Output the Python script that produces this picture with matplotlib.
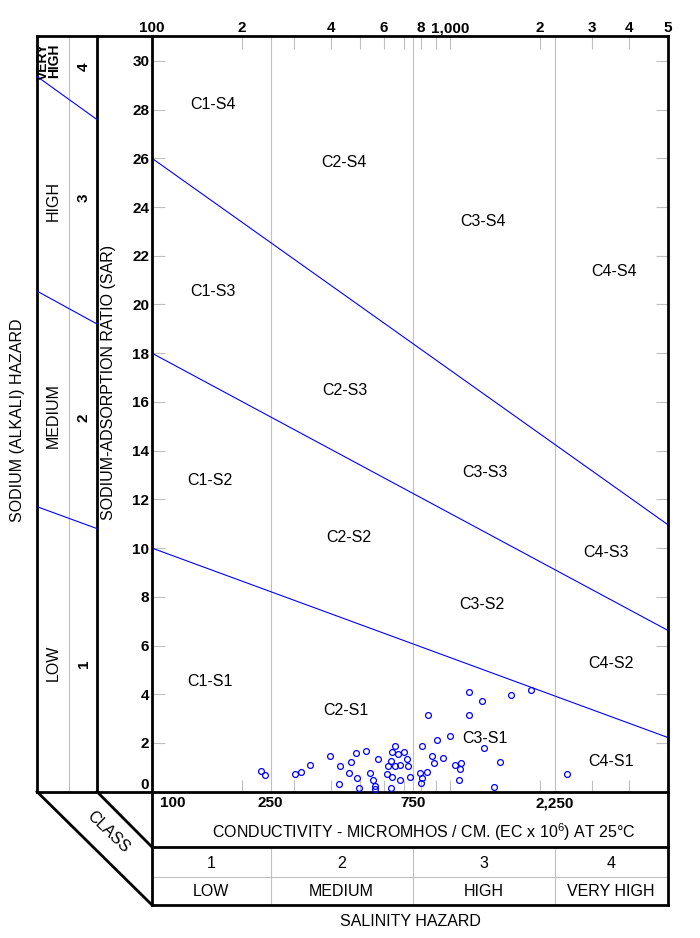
import matplotlib
matplotlib.use("Agg")
import matplotlib.pyplot as plt
from matplotlib.lines import Line2D
from matplotlib.transforms import blended_transform_factory as blend
from matplotlib.ticker import FixedLocator, FixedFormatter, NullLocator

plt.rcParams["font.family"] = ["Liberation Sans", "DejaVu Sans"]
plt.rcParams["mathtext.default"] = "regular"

W, H = 700, 938
XMIN, XMAX = 100, 5380
YMIN, YMAX = 0, 31

# ---- samples: conductivity (micromhos/cm) and SAR ----
ec = [232, 239, 302, 316, 339, 396, 427, 423, 458, 467, 484, 488, 495, 523,
      539, 552, 559, 560, 573, 615, 619, 634, 639, 637, 634, 653, 654, 669,
      680, 680, 699, 718, 723, 734, 793, 804, 798, 805, 835, 844, 870, 884,
      905, 945, 1000, 1039, 1072, 1078, 1086, 1158, 1158, 1281, 1300, 1405,
      1472, 1602, 1866, 2483]
sar = [0.86, 0.70, 0.74, 0.82, 1.09, 1.46, 1.05, 0.32, 0.78, 1.23, 1.60, 0.57,
       0.16, 1.68, 0.78, 0.49, 0.25, 0.11, 1.35, 0.74, 1.05, 1.25, 1.64, 0.61,
       0.16, 1.87, 1.05, 1.54, 1.11, 0.49, 1.64, 1.35, 1.05, 0.61, 0.78, 0.57,
       0.37, 1.87, 0.82, 3.15, 1.46, 1.18, 2.12, 1.38, 2.28, 1.09, 0.49, 0.93,
       1.19, 4.08, 3.15, 3.72, 1.79, 0.19, 1.22, 3.96, 4.17, 0.73]

# ---- sodium hazard boundaries (SAR at left edge EC=100 and at right edge) ----
bound_ec = [XMIN, XMAX]
s1_s2 = [10.0, 2.23]
s2_s3 = [18.0, 6.63]
s3_s4 = [26.0, 10.97]
# same boundaries where they cross the sodium-hazard strip (outer, inner edge)
strip_outer = [11.70, 20.55, 29.36]
strip_inner = [10.80, 19.20, 27.59]

# ---- salinity classes ----
class_edges = [100, 250, 750, 2250, XMAX]
class_nums = ["1", "2", "3", "4"]
class_names = ["LOW", "MEDIUM", "HIGH", "VERY HIGH"]
cond_ticks = [250, 750, 2250]
cond_labels = ["250", "750", "2,250"]

top_ticks = [100, 200, 300, 400, 500, 600, 700, 800, 900, 1000, 2000, 3000, 4000, XMAX]
top_labels = ["100", "2", "", "4", "", "6", "", "8", "", "1,000", "2", "3", "4", "5"]
sar_ticks = list(range(0, 31, 2))

regions = ["C1-S4", "C2-S4", "C3-S4", "C4-S4",
           "C1-S3", "C2-S3", "C3-S3", "C4-S3",
           "C1-S2", "C2-S2", "C3-S2", "C4-S2",
           "C1-S1", "C2-S1", "C3-S1", "C4-S1"]
region_pos = [(160, 28.2), (441, 25.83), (1290, 23.42), (3550, 21.37),
              (160, 20.55), (444, 16.46), (1310, 13.1), (3340, 9.82),
              (156, 12.77), (458, 10.43), (1280, 7.69), (3470, 5.27),
              (156, 4.54), (448, 3.35), (1310, 2.2), (3470, 1.22)]

BLUE = "#0000ff"
GREY = "#c0c0c0"
LW = 2.0
FS = 11.5

fig = plt.figure(figsize=(W / 100, H / 100), dpi=100)
L, R, T, B = 152, 667.5, 36.5, 791.7
ax = fig.add_axes([L / W, (H - B) / H, (R - L) / W, (B - T) / H])
ov = fig.add_axes([0, 0, 1, 1])
ov.set_xlim(0, W)
ov.set_ylim(H, 0)
ov.axis("off")
ov.set_zorder(ax.get_zorder() + 1)

ax.set_xscale("log")
ax.set_xlim(XMIN, XMAX)
ax.set_ylim(YMIN, YMAX)

for v in cond_ticks:
    ax.axvline(v, color=GREY, lw=0.8, zorder=1)

ax.plot(bound_ec, s1_s2, color=BLUE, lw=0.8)
ax.plot(bound_ec, s2_s3, color=BLUE, lw=0.8)
ax.plot(bound_ec, s3_s4, color=BLUE, lw=0.8)

ax.plot(ec, sar, "o", mfc="none", mec=BLUE, ms=4.2, mew=0.9, clip_on=False, zorder=3)

for name, (x, y) in zip(regions, region_pos):
    ax.text(x, y, name, ha="center", va="center", fontsize=FS)

# ticks
ax.xaxis.set_major_locator(FixedLocator(top_ticks))
ax.xaxis.set_major_formatter(FixedFormatter(top_labels))
ax.xaxis.set_minor_locator(NullLocator())
ax.tick_params(axis="x", which="both", top=True, bottom=True, direction="in",
               length=9, width=0.8, color=GREY, labeltop=True, labelbottom=False,
               pad=1, labelsize=11)
ax.set_yticks(sar_ticks)
ax.tick_params(axis="y", left=True, right=True, direction="in", length=9,
               width=0.8, color=GREY, labelsize=11, pad=2)
for lab in ax.get_xticklabels() + ax.get_yticklabels():
    lab.set_fontweight("bold")
ax.get_yticklabels()[0].set_verticalalignment("bottom")
for s in ax.spines.values():
    s.set_linewidth(LW)

# ---- frame of the side and bottom panels (pixel coords) ----
def seg(x0, y0, x1, y1, color="black", lw=LW):
    ov.add_line(Line2D([x0, x1], [y0, y1], color=color, lw=lw,
                       solid_capstyle="projecting", transform=ov.transData))

seg(69.3, T, 69.3, B, GREY, 0.8)
seg(L, 876.7, R, 876.7, GREY, 0.8)
xt = blend(ax.transData, ov.transData)
for v in cond_ticks:
    ov.add_line(Line2D([v, v], [847, 905], color=GREY, lw=0.8, transform=xt))

seg(37, T, L, T)
seg(37, T, 37, B)
seg(97, T, 97, B)
seg(37, B, L, B)
seg(37, B, L, 905)
seg(97, B, L, 847)
seg(L, B, L, 905)
seg(R, B, R, 905)
seg(L, 847, R, 847)
seg(L, 905, R, 905)

# boundaries through the sodium-hazard strip
yt = blend(ov.transData, ax.transData)
for a, b in zip(strip_outer, strip_inner):
    ov.add_line(Line2D([37, 97], [a, b], color=BLUE, lw=0.8, transform=yt))

# ---- texts ----
ov.text(18, 420, "SODIUM (ALKALI) HAZARD", rotation=90, ha="center", va="center", fontsize=FS)
ov.text(109, 382, "SODIUM-ADSORPTION RATIO (SAR)", rotation=90, ha="center", va="center", fontsize=FS)
ov.text(48.5, 61, "VERY\nHIGH", rotation=90, ha="center", va="center", fontsize=10,
        linespacing=0.76, multialignment="center", fontweight="bold")
for txt, y in [("HIGH", 201), ("MEDIUM", 416), ("LOW", 663)]:
    ov.text(53, y, txt, rotation=90, ha="center", va="center", fontsize=FS)
for num, y in [("4", 67), ("3", 198), ("2", 418), ("1", 664)]:
    ov.text(84, y, num, rotation=90, ha="center", va="center", fontsize=11, fontweight="bold")

ov.text(108, 832, "CLASS", rotation=-44, ha="center", va="center", fontsize=FS)

ov.text(160, 803, "100", ha="left", va="center", fontsize=11, fontweight="bold")
for v, t in zip(cond_ticks, cond_labels):
    ov.text(v, 803, t, ha="center", va="center", fontsize=11, fontweight="bold", transform=xt)
ov.text(424, 832, "CONDUCTIVITY - MICROMHOS / CM. (EC x 10$^{6}$) AT 25°C",
        ha="center", va="center", fontsize=FS)

for i in range(4):
    xc = (class_edges[i] * class_edges[i + 1]) ** 0.5
    ov.text(xc, 863, class_nums[i], ha="center", va="center", fontsize=FS, transform=xt)
    ov.text(xc, 892, class_names[i], ha="center", va="center", fontsize=FS, transform=xt)
ov.text(410, 922, "SALINITY HAZARD", ha="center", va="center", fontsize=FS)

fig.savefig("out.png", dpi=100)
